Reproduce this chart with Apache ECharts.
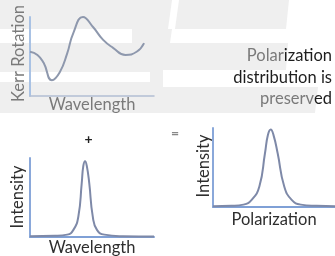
<!DOCTYPE html>
<html>
<head>
<meta charset="utf-8">
<script src="https://cdn.jsdelivr.net/npm/echarts@6/dist/echarts.min.js"></script>
<style>
  html, body { margin: 0; padding: 0; background: #fff; }
  #chart { width: 335px; height: 256px; }
</style>
</head>
<body>
<div id="chart"></div>
<script>
// Kerr rotation vs wavelength (top-left panel)
var kerrX = [0, 6, 11, 17.7, 24, 30, 35, 42.7, 51, 59, 67, 77, 86, 92];
var kerrY = [56, 52, 42, 20, 30, 54, 80, 100, 87, 71, 61, 52, 56, 67];

// Intensity vs wavelength (bottom-left panel)
var specX = [0, 20, 30, 35, 39, 41.7, 43, 44.4, 45.8, 47.8, 50.6, 54, 60, 75, 100];
var specY = [1, 1.5, 3, 9, 26, 68, 90, 96, 90, 68, 26, 9, 3, 1, 0.5];

// Intensity vs polarization (bottom-right panel)
var polX = [0, 15, 25, 31.7, 38, 42.6, 45, 47.3, 49.6, 53, 58.4, 64.5, 72, 85, 100];
var polY = [1, 1.5, 3, 9, 26, 68, 91, 98, 91, 68, 26, 9, 3, 1.5, 1];

var labels = {
  kerr: 'Kerr Rotation',
  wave: 'Wavelength',
  inten: 'Intensity',
  pol: 'Polarization'
};

var FONT = 'Lato, "Open Sans", sans-serif';
var chart = echarts.init(document.getElementById('chart'));

function pairs(xs, ys) {
  return xs.map(function(x, i) { return [x, ys[i]]; });
}

function axisPair(gridIndex, xColor, yColor, xWidth, yWidth) {
  return {
    x: {
      type: 'value', gridIndex: gridIndex, min: 0, max: 100,
      axisLine: { show: true, lineStyle: { color: xColor, width: xWidth } },
      axisTick: { show: false }, axisLabel: { show: false }, splitLine: { show: false }
    },
    y: {
      type: 'value', gridIndex: gridIndex, min: 0, max: 100,
      axisLine: { show: true, lineStyle: { color: yColor, width: yWidth } },
      axisTick: { show: false }, axisLabel: { show: false }, splitLine: { show: false }
    }
  };
}

var a0 = axisPair(0, '#b3bfd3', '#a9c2e4', 1.5, 2);
var a1 = axisPair(1, '#7fa0d6', '#8aa8da', 2, 2);
var a2 = axisPair(2, '#7fa0d6', '#8aa8da', 2, 2);

function bg(points) {
  return { type: 'polygon', z: -10, silent: true, shape: { points: points }, style: { fill: '#efefef' } };
}
function txt(x, y, s, opt) {
  var style = {
    text: s, fill: opt.fill || '#333',
    font: (opt.weight || 'normal') + ' ' + (opt.size || 16.5) + 'px ' + FONT,
    textAlign: 'center', textVerticalAlign: 'middle', x: 0, y: 0
  };
  return { type: 'text', rotation: opt.rot || 0, x: x, y: y, style: style };
}

var option = {
  animation: false,
  backgroundColor: '#ffffff',
  grid: [
    { left: 30, top: 17, width: 124, height: 79 },
    { left: 30, top: 158, width: 124, height: 79 },
    { left: 213, top: 128, width: 122, height: 79 }
  ],
  xAxis: [a0.x, a1.x, a2.x],
  yAxis: [a0.y, a1.y, a2.y],
  series: [
    { type: 'line', xAxisIndex: 0, yAxisIndex: 0, smooth: true, showSymbol: false,
      lineStyle: { color: '#8e98ad', width: 2 }, data: pairs(kerrX, kerrY) },
    { type: 'line', xAxisIndex: 1, yAxisIndex: 1, smooth: true, showSymbol: false,
      lineStyle: { color: '#7e89a8', width: 2 }, data: pairs(specX, specY) },
    { type: 'line', xAxisIndex: 2, yAxisIndex: 2, smooth: true, showSymbol: false,
      lineStyle: { color: '#7e89a8', width: 2 }, data: pairs(polX, polY) }
  ],
  graphic: [
    // faint background logo
    bg([[0, 0], [172, 0], [168, 29], [0, 29]]),
    bg([[179, 0], [289, 0], [286, 29], [175, 29]]),
    bg([[132, 29], [172, 29], [170, 43], [132, 43]]),
    bg([[0, 43], [288, 43], [286, 70], [163, 70], [163, 72], [0, 72]]),
    bg([[150, 72], [163, 72], [163, 82], [150, 82]]),
    bg([[0, 82], [163, 82], [163, 87], [318, 87], [315, 113], [0, 113]]),

    txt(18.5, 53.5, labels.kerr, { rot: Math.PI / 2, fill: '#7a7a7a' }),
    txt(92, 105, labels.wave, { fill: '#7a7a7a' }),
    txt(18, 197, labels.inten, { rot: Math.PI / 2, fill: '#2e2e2e' }),
    txt(92, 247.5, labels.wave, { fill: '#2e2e2e' }),
    txt(204, 166, labels.inten, { rot: Math.PI / 2, fill: '#2e2e2e' }),
    txt(274, 219.5, labels.pol, { fill: '#2e2e2e' }),
    txt(88.5, 139.5, '+', { fill: '#222', size: 14, weight: 'bold' }),
    txt(175, 133.5, '=', { fill: '#888', size: 14, weight: 'bold' }),
    {
      type: 'text', x: 332, y: 45,
      style: {
        text: '{g|Polar}{k|ization}\n{k|distribution is}\n{g|preserv}{k|ed}',
        textAlign: 'right', textVerticalAlign: 'top',
        font: '16.5px ' + FONT, lineHeight: 21.5,
        rich: {
          g: { fill: '#7a7a7a', font: '16.5px ' + FONT, lineHeight: 21.5 },
          k: { fill: '#1e1e1e', font: '16.5px ' + FONT, lineHeight: 21.5 }
        }
      }
    }
  ]
};
chart.setOption(option);
</script>
</body>
</html>
